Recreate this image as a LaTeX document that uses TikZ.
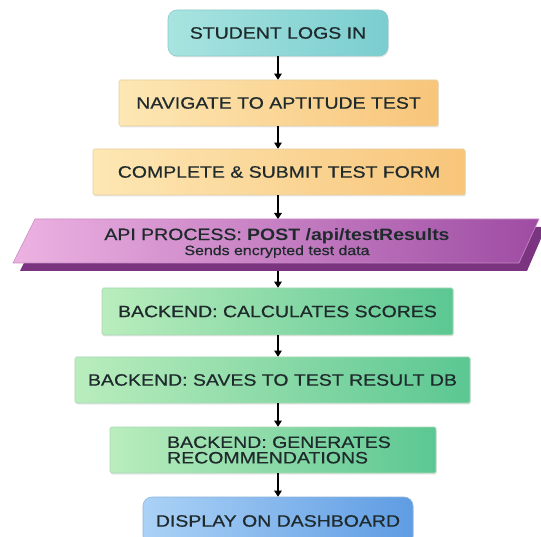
\documentclass[tikz,border=0pt]{standalone}
\usepackage{fontspec}
\setmainfont{Liberation Sans}[FakeStretch=1.18, UprightFeatures={FakeBold=0.6}]
\usetikzlibrary{arrows.meta,shadows}
\definecolor{txt}{HTML}{1F2A2C}
\definecolor{tealL}{HTML}{A8E4E0}
\definecolor{tealR}{HTML}{7ACDD0}
\definecolor{tealB}{HTML}{8FC9C8}
\definecolor{orL}{HTML}{FDE7B4}
\definecolor{orR}{HTML}{F8C57A}
\definecolor{orB}{HTML}{E6CFA0}
\definecolor{apiL}{HTML}{EDB2E2}
\definecolor{apiR}{HTML}{9E4CA3}
\definecolor{apiB}{HTML}{C98BC4}
\definecolor{apiS}{HTML}{7A3480}
\definecolor{grL}{HTML}{BAEDBD}
\definecolor{grR}{HTML}{5BC792}
\definecolor{grB}{HTML}{A9D8B4}
\definecolor{blL}{HTML}{ABD2F6}
\definecolor{blR}{HTML}{5F9CE3}
\definecolor{blB}{HTML}{8DB4DC}
\begin{document}
\begin{tikzpicture}[x=1pt,y=1pt,
  box/.style={line width=0.6pt, inner sep=0pt, text=txt,
    font=\fontsize{16.5}{15.5}\selectfont, minimum height=46,
    drop shadow={opacity=0.18, shadow xshift=0.8pt, shadow yshift=-1.5pt}},
  tealbox/.style={box, draw=tealB, left color=tealL, right color=tealR, rounded corners=9pt},
  orbox/.style={box, draw=orB, left color=orL, right color=orR, rounded corners=1.5pt},
  grbox/.style={box, draw=grB, left color=grL, right color=grR, rounded corners=1.5pt},
  blbox/.style={box, draw=blB, left color=blL, right color=blR, rounded corners=9pt},
  arr/.style={line width=1.3pt, black, -{Triangle[length=6pt,width=7.5pt]}}
]
\useasboundingbox (0,0) rectangle (541,-537);
\fill[white] (0,0) rectangle (541,-537);

\node[tealbox, minimum width=220] (n1) at (278,-33) {STUDENT LOGS IN};
\node[orbox, minimum width=319] (n2) at (278.5,-103) {NAVIGATE TO APTITUDE TEST};
\node[orbox, minimum width=372] (n3) at (279,-172) {COMPLETE \& SUBMIT TEST FORM};

% API parallelogram
\fill[apiS] (20,-271) -- (42,-227) -- (546,-227) -- (527,-271) -- cycle;
\shade[left color=apiL, right color=apiR, draw=apiB, line width=0.6pt]
  (13,-263) -- (35,-219) -- (539,-219) -- (519,-263) -- cycle;
\node[text=txt, align=center, inner sep=0pt, font=\fontsize{16.5}{15}\selectfont] (api) at (277,-243)
  {API PROCESS: \textbf{POST /api/testResults}\\[0pt]{\fontsize{13.5}{15}\selectfont Sends encrypted test data}};
\coordinate (apiN) at (278,-219);
\coordinate (apiS) at (278,-271);

\node[grbox, minimum width=351, minimum height=47] (n5) at (277.5,-311.5) {BACKEND: CALCULATES SCORES};
\node[grbox, minimum width=395] (n6) at (272.5,-380) {BACKEND: SAVES TO TEST RESULT DB};
\node[grbox, minimum width=326, align=left] (n7) at (273,-450) {\hspace*{12pt}BACKEND: GENERATES\\\hspace*{12pt}RECOMMENDATIONS};
\node[blbox, minimum width=270, minimum height=48] (n8) at (278,-521) {DISPLAY ON DASHBOARD};

\draw[arr] (n1.south -| n1) -- (n2.north -| n1);
\draw[arr] (n2.south -| n1) -- (n3.north -| n1);
\draw[arr] (n3.south -| n1) -- (apiN);
\draw[arr] (apiS) -- (n5.north -| n1);
\draw[arr] (n5.south -| n1) -- (n6.north -| n1);
\draw[arr] (n6.south -| n1) -- (n7.north -| n1);
\draw[arr] (n7.south -| n1) -- (n8.north -| n1);
\end{tikzpicture}
\end{document}
